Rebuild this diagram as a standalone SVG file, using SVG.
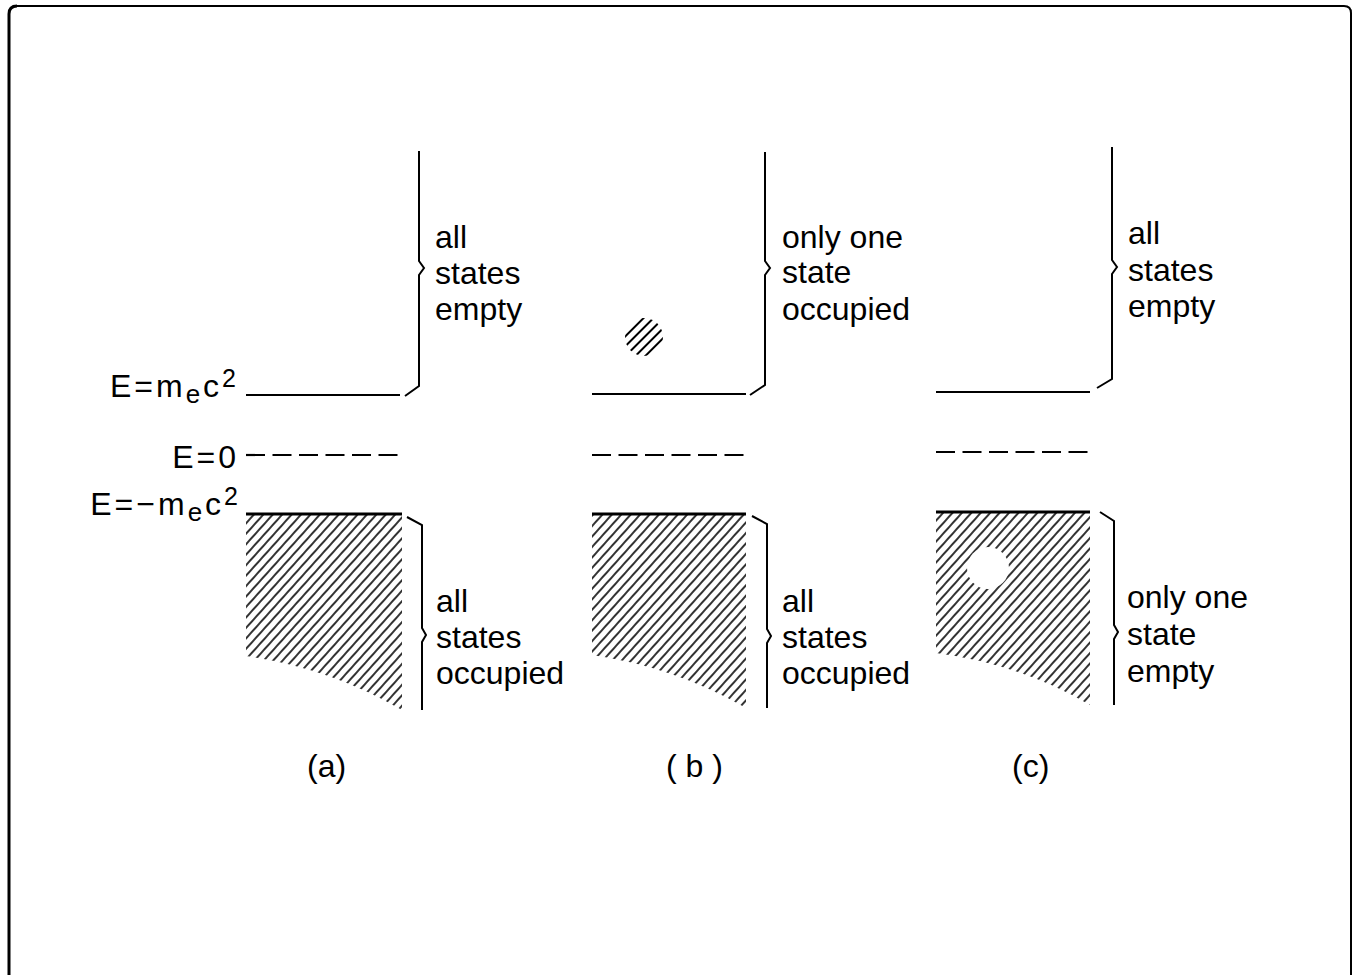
<svg xmlns="http://www.w3.org/2000/svg" width="1360" height="975" viewBox="0 0 1360 975">
<defs>
<pattern id="hatch" patternUnits="userSpaceOnUse" width="7" height="7" patternTransform="rotate(42)">
<line x1="1" y1="0" x2="1" y2="7" stroke="#000" stroke-width="1.6"/>
</pattern>
<pattern id="hatch2" patternUnits="userSpaceOnUse" width="7" height="7" patternTransform="rotate(45)">
<line x1="1" y1="0" x2="1" y2="7" stroke="#000" stroke-width="2"/>
</pattern>
</defs>
<style>
.t{font-family:"Liberation Sans",Arial,sans-serif;font-size:32px;fill:#000}
.lab{letter-spacing:3px}
.sub{font-size:26px}
.sup{font-size:25px}
.ln{stroke:#000;stroke-width:2.2;fill:none}
.lnb{stroke:#000;stroke-width:2.8;fill:none}
.dash{stroke:#000;stroke-width:2.2;fill:none;stroke-dasharray:19 7.5}
.br{stroke:#000;stroke-width:2;fill:none;stroke-linejoin:miter}
.fr{stroke:#000;fill:none}
</style>
<rect width="1360" height="975" fill="#fff"/>
<g id="frame">
<path class="fr" stroke-width="3" d="M9,975 L9,14 Q9,6 17,6"/>
<path class="fr" stroke-width="2" d="M17,6 L1344,6 Q1351,6 1351,13 L1351,975"/>
</g>
<g id="labels-left">
<text class="t lab" x="239" y="397" text-anchor="end">E=m<tspan class="sub" dy="6">e</tspan><tspan dy="-6">c</tspan><tspan class="sup" dy="-10">2</tspan></text>
<text class="t lab" x="239" y="468" text-anchor="end">E=0</text>
<text class="t lab" x="241" y="515" text-anchor="end">E=−m<tspan class="sub" dy="6">e</tspan><tspan dy="-6">c</tspan><tspan class="sup" dy="-10">2</tspan></text>
</g>
<g id="panel-a">
<line class="ln" x1="246" y1="395" x2="400" y2="395"/>
<line class="dash" x1="246" y1="455" x2="402" y2="455"/>
<path d="M246,514 L402,514 L402,710 Q330,668 246,656 Z" fill="url(#hatch)"/>
<line class="lnb" x1="246" y1="514" x2="402" y2="514"/>
<text class="t" x="435" y="248">all</text>
<text class="t" x="435" y="284">states</text>
<text class="t" x="435" y="320">empty</text>
<text class="t" x="436" y="612">all</text>
<text class="t" x="436" y="648">states</text>
<text class="t" x="436" y="684">occupied</text>
<text class="t" x="307" y="777">(a)</text>
</g>
<g id="panel-b">
<line class="ln" x1="592" y1="394" x2="746" y2="394"/>
<line class="dash" x1="592" y1="455" x2="748" y2="455"/>
<circle cx="644" cy="337" r="19" fill="url(#hatch2)"/>
<path d="M592,514 L746,514 L746,708 Q675,667 592,655 Z" fill="url(#hatch)"/>
<line class="lnb" x1="592" y1="514" x2="746" y2="514"/>
<text class="t" x="782" y="248">only one</text>
<text class="t" x="782" y="283">state</text>
<text class="t" x="782" y="320">occupied</text>
<text class="t" x="782" y="612">all</text>
<text class="t" x="782" y="648">states</text>
<text class="t" x="782" y="684">occupied</text>
<text class="t" x="666" y="777">( b )</text>
</g>
<g id="panel-c">
<line class="ln" x1="936" y1="392" x2="1090" y2="392"/>
<line class="dash" x1="936" y1="452" x2="1092" y2="452"/>
<path d="M936,512 L1090,512 L1090,705 Q1020,664 936,653 Z" fill="url(#hatch)"/>
<circle cx="988" cy="568" r="21" fill="#fff"/>
<line class="lnb" x1="936" y1="512" x2="1090" y2="512"/>
<text class="t" x="1128" y="244">all</text>
<text class="t" x="1128" y="281">states</text>
<text class="t" x="1128" y="317">empty</text>
<text class="t" x="1127" y="608">only one</text>
<text class="t" x="1127" y="645">state</text>
<text class="t" x="1127" y="682">empty</text>
<text class="t" x="1012" y="777">(c)</text>
</g>
<g id="connectors">
<path class="br" d="M405,396 L419,386 L419,275 L424,268 L419,261 L419,151"/>
<path class="br" d="M407,517 L422,525 L422,628 L426,635 L422,642 L422,710"/>
<path class="br" d="M750,395 L765,385 L765,275 L770,268 L765,261 L765,152"/>
<path class="br" d="M752,516 L767,524 L767,629 L771,636 L767,643 L767,708"/>
<path class="br" d="M1097,388 L1112,379 L1112,274 L1117,267 L1112,260 L1112,147"/>
<path class="br" d="M1100,512 L1114,521 L1114,625 L1118,632 L1114,639 L1114,705"/>
</g>
</svg>
